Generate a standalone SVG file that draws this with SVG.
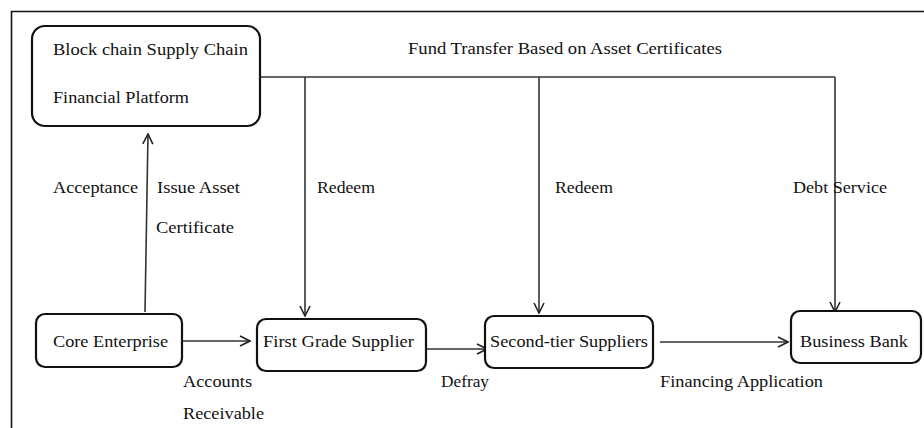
<svg xmlns="http://www.w3.org/2000/svg" width="924" height="428" viewBox="0 0 924 428">
<style>
.box{fill:#fff;stroke:#111;stroke-width:2.2}
.t{font-family:"Liberation Serif","Times New Roman",serif;font-size:17px;fill:#111}
.c{fill:none;stroke:#333;stroke-width:1.6}
</style>
<defs>
<marker id="ah" viewBox="0 0 12 12" refX="11" refY="6" markerWidth="12" markerHeight="12" markerUnits="userSpaceOnUse" orient="auto">
<path d="M1,1 L11,6 L1,11" fill="none" stroke="#222" stroke-width="1.6"/>
</marker>
</defs>
<rect x="0" y="0" width="924" height="428" fill="#fff"/>
<path d="M11.5,440 V11.5 H930" fill="none" stroke="#111" stroke-width="1.6"/>
<g id="connectors">
<path class="c" d="M260,77 H835"/>
<path class="c" d="M305,77 V316" marker-end="url(#ah)"/>
<path class="c" d="M539,77 V313" marker-end="url(#ah)"/>
<path class="c" d="M835,77 V312" marker-end="url(#ah)"/>
<path class="c" d="M145,312 L148,134" marker-end="url(#ah)"/>
<path class="c" d="M183,341 H250" marker-end="url(#ah)"/>
<path class="c" d="M421,349 H487" marker-end="url(#ah)"/>
<path class="c" d="M660,342 H788" marker-end="url(#ah)"/>
</g>
<g id="platform">
<rect class="box" x="32" y="26" width="228" height="100" rx="13"/>
<text class="t" x="53" y="55" textLength="195" lengthAdjust="spacingAndGlyphs">Block chain Supply Chain</text>
<text class="t" x="53" y="103" textLength="136" lengthAdjust="spacingAndGlyphs">Financial Platform</text>
</g>
<g id="core">
<rect class="box" x="36" y="314" width="146" height="53" rx="9"/>
<text class="t" x="53" y="347" textLength="115" lengthAdjust="spacingAndGlyphs">Core Enterprise</text>
</g>
<g id="first">
<rect class="box" x="257" y="319" width="169" height="52" rx="9"/>
<text class="t" x="263" y="347" textLength="151" lengthAdjust="spacingAndGlyphs">First Grade Supplier</text>
</g>
<g id="second">
<rect class="box" x="485" y="316" width="168" height="52" rx="9"/>
<text class="t" x="490" y="347" textLength="158" lengthAdjust="spacingAndGlyphs">Second-tier Suppliers</text>
</g>
<g id="bank">
<rect class="box" x="791" y="311" width="130" height="52" rx="9"/>
<text class="t" x="800" y="347" textLength="108" lengthAdjust="spacingAndGlyphs">Business Bank</text>
</g>
<g id="labels">
<text class="t" x="408" y="54" textLength="314" lengthAdjust="spacingAndGlyphs">Fund Transfer Based on Asset Certificates</text>
<text class="t" x="53" y="193" textLength="85" lengthAdjust="spacingAndGlyphs">Acceptance</text>
<text class="t" x="157" y="193" textLength="83" lengthAdjust="spacingAndGlyphs">Issue Asset</text>
<text class="t" x="156" y="233" textLength="78" lengthAdjust="spacingAndGlyphs">Certificate</text>
<text class="t" x="317" y="193" textLength="58" lengthAdjust="spacingAndGlyphs">Redeem</text>
<text class="t" x="555" y="193" textLength="58" lengthAdjust="spacingAndGlyphs">Redeem</text>
<text class="t" x="793" y="193" textLength="94" lengthAdjust="spacingAndGlyphs">Debt Service</text>
<text class="t" x="183" y="387" textLength="69" lengthAdjust="spacingAndGlyphs">Accounts</text>
<text class="t" x="183" y="419" textLength="81" lengthAdjust="spacingAndGlyphs">Receivable</text>
<text class="t" x="441" y="387" textLength="48" lengthAdjust="spacingAndGlyphs">Defray</text>
<text class="t" x="660" y="387" textLength="163" lengthAdjust="spacingAndGlyphs">Financing Application</text>
</g>
</svg>
